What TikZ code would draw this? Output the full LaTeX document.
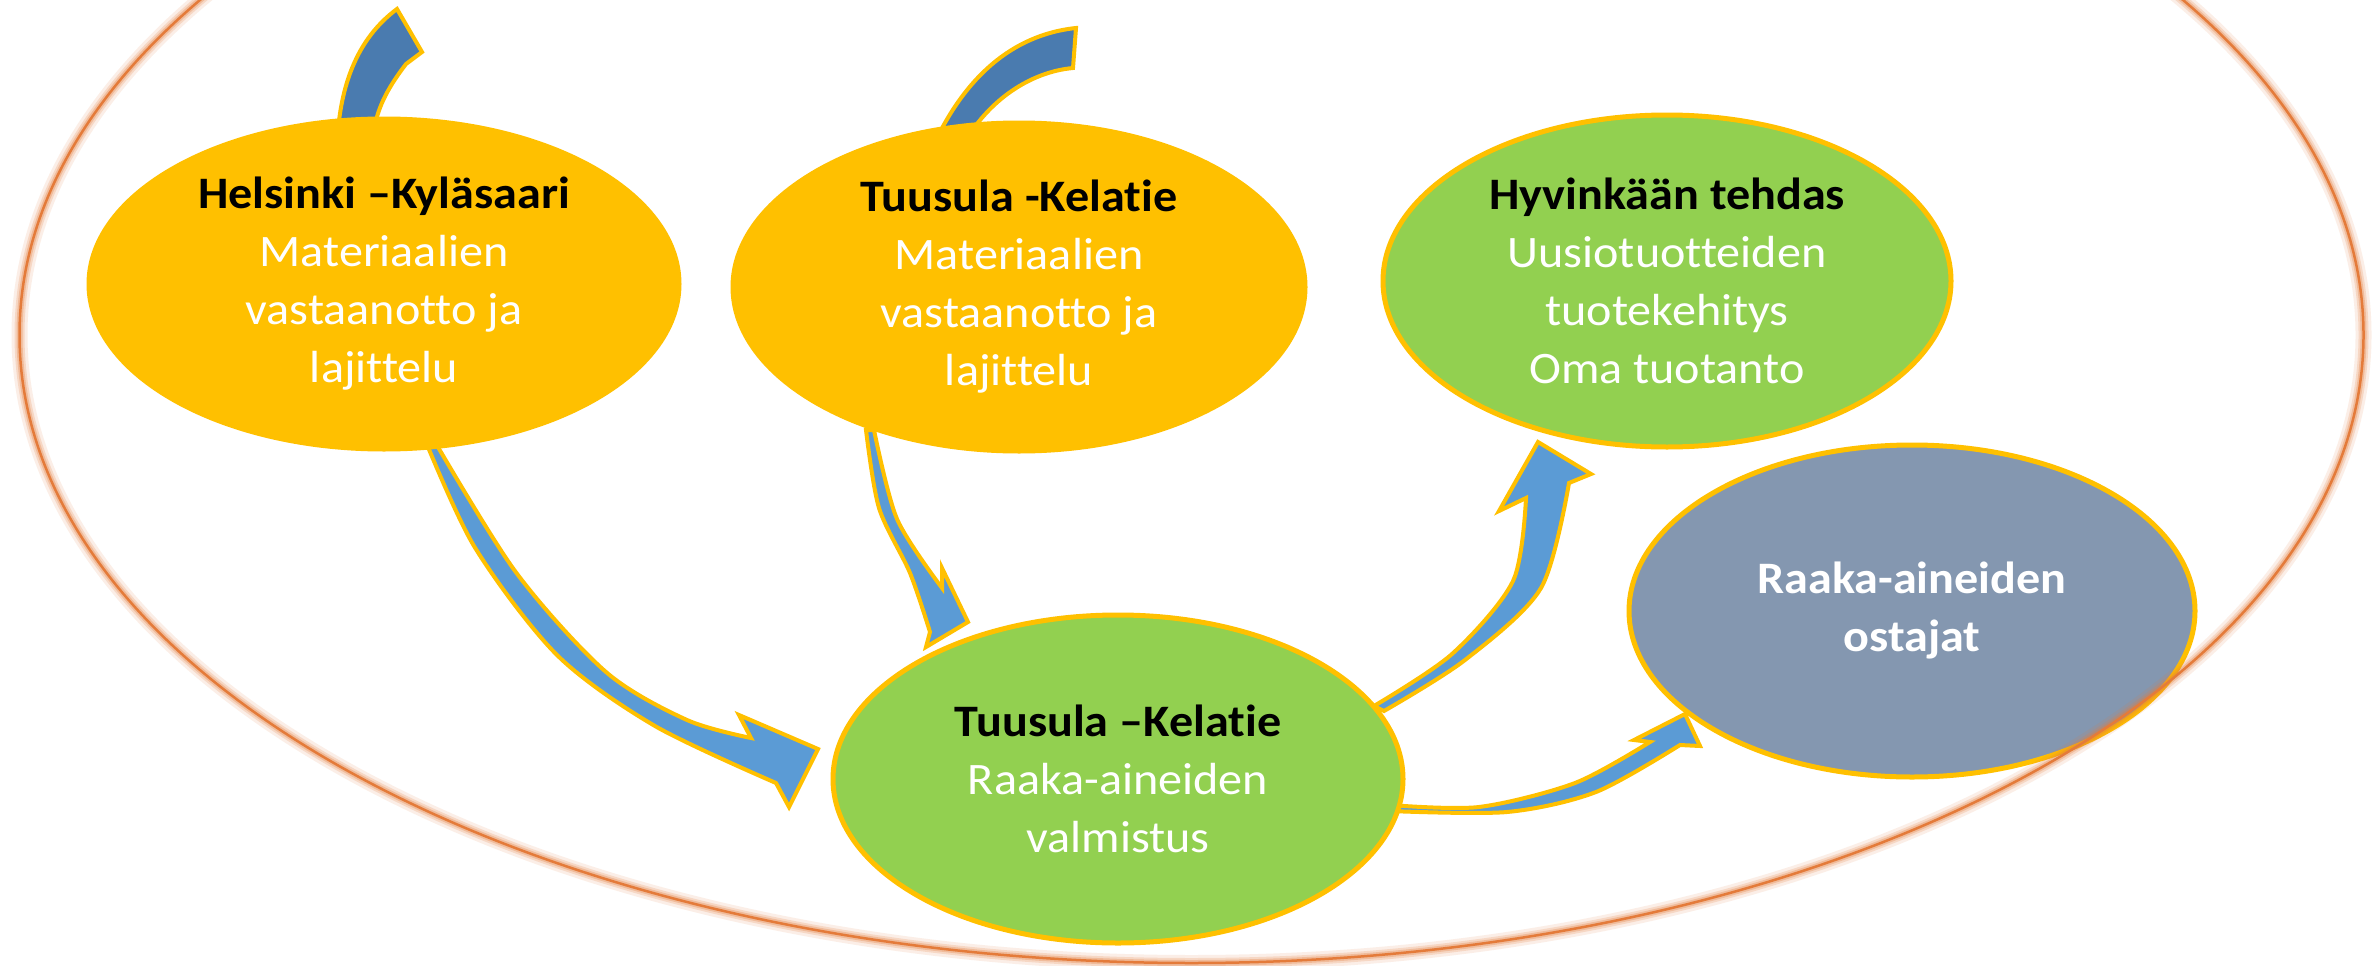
\documentclass[tikz,border=0pt]{standalone}
\usepackage{fontspec}
\setmainfont{Carlito}[FakeStretch=1.07, Ligatures=NoCommon]
\usetikzlibrary{shapes.geometric}
\definecolor{yel}{HTML}{FFC000}
\definecolor{grn}{HTML}{92D050}
\definecolor{gry}{HTML}{8497B0}
\definecolor{blu}{HTML}{5B9BD5}
\definecolor{dblu}{HTML}{4A7BAF}
\definecolor{org}{HTML}{E47B3A}
\begin{document}
\begin{tikzpicture}[x=1pt,y=-1pt,
  place/.style={ellipse, draw=yel, line width=5pt, inner sep=0pt, align=center,
    font=\fontsize{45}{58}\selectfont, text=white},
  blockarrow/.style={draw=yel, line width=4pt, line join=miter, fill=blu}]
\useasboundingbox (0,0) rectangle (2380,966);
\fill[white] (0,0) rectangle (2380,966);

% top curved arrows (behind the upper nodes)
\draw[blockarrow, fill=dblu] (338,130) .. controls (343,75) and (362,35) .. (397,9)
  -- (422,52) -- (406,64) .. controls (390,85) and (378,105) .. (374,130) -- cycle;
\draw[blockarrow, fill=dblu] (936,140) .. controls (965,80) and (1010,35) .. (1076,28)
  -- (1073,68) .. controls (1030,72) and (990,100) .. (966,140) -- cycle;

% lower curved arrows
\draw[blockarrow] plot[smooth] coordinates {(421,430) (474,546) (557,655) (655,726) (776,783)}
  -- (789,807) -- (818,749) -- (739,715) -- (751,738)
  -- plot[smooth] coordinates {(751,738) (687,720) (606,672) (515,571) (428,430)} -- cycle;
\draw[blockarrow] plot[smooth] coordinates {(866,430) (879,508) (910,573) (930,632)}
  -- (926,647) -- (968,622) -- (942,568) -- (942,588)
  -- plot[smooth] coordinates {(942,588) (897,519) (874,430)} -- cycle;
\draw[blockarrow] plot[smooth] coordinates {(1374,706) (1452,654) (1513,581) (1526,498)}
  -- (1499,511) -- (1538,442) -- (1591,474) -- (1569,483)
  -- plot[smooth] coordinates {(1569,483) (1541,588) (1465,660) (1384,711)} -- cycle;
\draw[blockarrow] plot[smooth] coordinates {(1390,805) (1479,807) (1575,783) (1650,742)}
  -- (1634,740) -- (1685,714) -- (1700,746) -- (1680,745)
  -- plot[smooth] coordinates {(1680,745) (1596,792) (1507,812) (1390,811)} -- cycle;

% nodes
\node[place, fill=yel, minimum width=590pt, minimum height=330pt] (hel) at (384,284)
  {\textcolor{black}{\bfseries Helsinki –Kyläsaari}\\Materiaalien\\vastaanotto ja\\lajittelu};
\node[place, fill=yel, minimum width=572pt, minimum height=328pt] (tuu) at (1019,287)
  {\textcolor{black}{\bfseries Tuusula -Kelatie}\\Materiaalien\\vastaanotto ja\\lajittelu};
\node[place, fill=grn, minimum width=568pt, minimum height=332pt] (hyv) at (1667,281)
  {\textcolor{black}{\bfseries Hyvinkään tehdas}\\Uusiotuotteiden\\tuotekehitys\\Oma tuotanto};
\node[place, fill=grn, minimum width=570pt, minimum height=328pt] (kel) at (1118,779)
  {\textcolor{black}{\bfseries Tuusula –Kelatie}\\Raaka-aineiden\\valmistus};
\node[place, fill=gry, minimum width=566pt, minimum height=332pt, font=\fontsize{45}{58}\selectfont\bfseries] (ost) at (1912,611)
  {Raaka-aineiden\\ostajat};

% surrounding ellipse with glow
\draw[org, opacity=0.12, line width=16pt] (1191.5,335) ellipse [x radius=1172pt, y radius=628pt];
\draw[org, opacity=0.2, line width=10pt] (1191.5,335) ellipse [x radius=1172pt, y radius=628pt];
\draw[org, opacity=0.3, line width=6pt] (1191.5,335) ellipse [x radius=1172pt, y radius=628pt];
\draw[org, line width=2.5pt] (1191.5,335) ellipse [x radius=1172pt, y radius=628pt];
\end{tikzpicture}
\end{document}
